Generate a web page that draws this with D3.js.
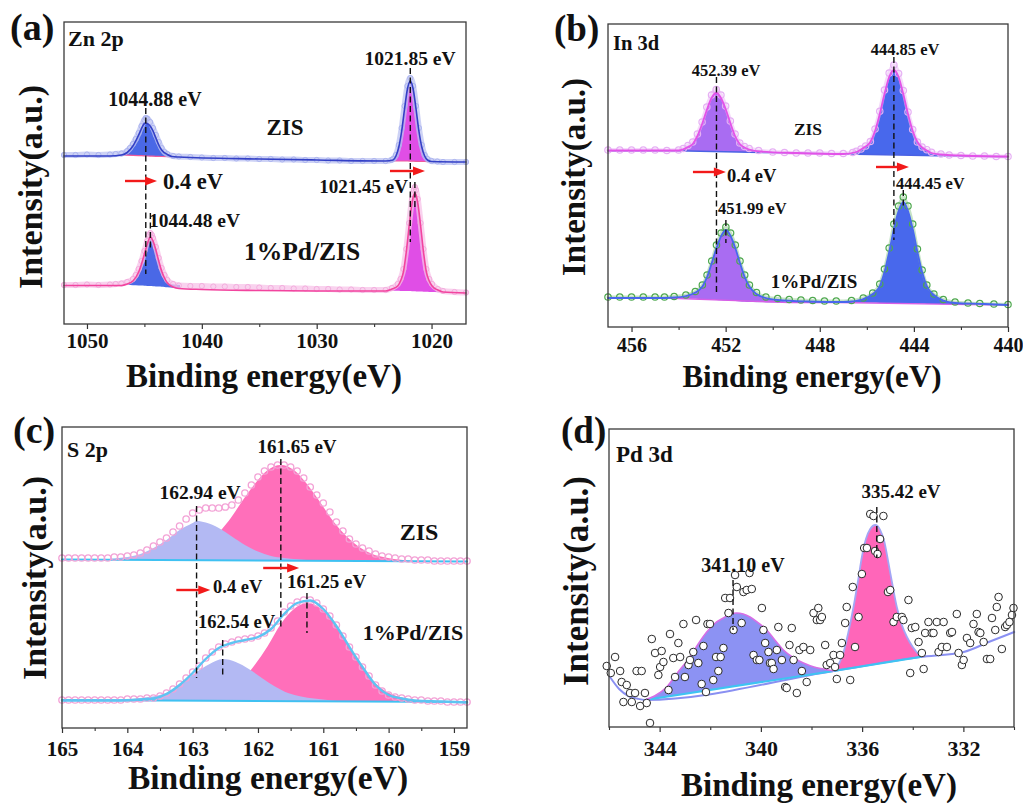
<!DOCTYPE html>
<html><head><meta charset="utf-8">
<script src="https://d3js.org/d3.v7.min.js"></script>
<style>
html,body{margin:0;padding:0;background:#fff;}
svg{display:block;}
text{font-family:"Liberation Serif","Times New Roman",serif;font-weight:bold;fill:#111;}
</style>
</head><body>
<svg id="chart" width="1023" height="805"></svg>
<script>
// ================= DATA =================
// ---- (a) Zn 2p : [binding energy, intensity a.u.] ----
const aZisData = [[1052,169],[1051,169],[1050,169.5],[1049,169],[1048,169.5],[1047.5,170],[1047,170.5],[1046.5,173],[1046.25,176],[1046,180],[1045.75,185],[1045.5,191],[1045.25,198],[1045,204],[1044.88,206],[1044.75,205.5],[1044.5,202],[1044.25,196],[1044,189],[1043.75,182],[1043.5,176],[1043.25,172],[1043,170],[1042.5,168],[1042,167.5],[1041,167],[1040,166.5],[1039,166],[1038,166],[1037,165.5],[1036,165.5],[1035,165],[1034,165],[1033,164.5],[1032,164.5],[1031,164],[1030,164],[1029,163.5],[1028,163.5],[1027,163],[1026,163],[1025,163],[1024,163],[1023.5,164],[1023.35,165],[1023.1,169],[1022.85,179],[1022.6,196],[1022.35,218],[1022.1,238],[1021.85,246],[1021.6,238],[1021.35,218],[1021.1,196],[1020.85,179],[1020.6,169],[1020.35,165],[1020,163],[1019.5,162.5],[1019,162],[1018,162],[1017,162]];
const aZisFit = [[1052,168],[1048,168],[1047,169],[1046.5,171.5],[1046,178],[1045.5,189],[1045.25,195.5],[1045,200.5],[1044.88,201],[1044.75,200.5],[1044.5,198],[1044.25,193],[1044,186],[1043.75,179],[1043.5,174],[1043,169.5],[1042.6,167.5],[1042,167],[1035,165],[1030,164],[1024,163],[1023.35,164],[1023.1,168],[1022.85,177],[1022.6,193],[1022.35,215],[1022.1,235],[1021.85,243],[1021.6,235],[1021.35,215],[1021.1,193],[1020.85,177],[1020.6,168],[1020.35,164],[1020,162.5],[1017,162]];
// components: [energy, top, background]
const aZisPeak1 = [[1047.2,169,169],[1046.5,171.5,168.8],[1046,178,168.6],[1045.5,189,168.4],[1045.25,195.5,168.3],[1045,200.5,168.2],[1044.88,201,168.1],[1044.75,200.5,168],[1044.5,198,167.9],[1044.25,193,167.8],[1044,186,167.7],[1043.75,179,167.6],[1043.5,174,167.5],[1043,169.5,167.3],[1042.6,167.2,167.2]];
const aZisPeak2 = [[1023.6,163,163],[1023.35,164,163],[1023.1,168,163],[1022.85,177,163],[1022.6,193,163],[1022.35,215,163],[1022.1,235,163],[1021.85,243,162.8],[1021.6,235,162.8],[1021.35,215,162.7],[1021.1,193,162.7],[1020.85,177,162.6],[1020.6,168,162.5],[1020.35,164,162.4],[1020,162.3,162.3]];
const aPdData = [[1052,39],[1051,39],[1050,39.5],[1049,39],[1048,39.5],[1047.5,40],[1047,40.5],[1046.5,42],[1046,45],[1045.75,49],[1045.5,55],[1045.25,63],[1045,73],[1044.75,83],[1044.6,89],[1044.48,91],[1044.35,89],[1044.25,86],[1044,77],[1043.75,66],[1043.5,56],[1043.25,49],[1043,44],[1042.5,40],[1042,38.5],[1041,38],[1040,38],[1039,37.5],[1038,37.5],[1037,37],[1036,37],[1035,36.5],[1034,36],[1033,36],[1032,35.5],[1031,35.5],[1030,35],[1029,35],[1028,34.5],[1027,34.5],[1026,34],[1025,34],[1024,34],[1023.45,36],[1022.95,40],[1022.7,45],[1022.45,55],[1022.2,75],[1021.95,101],[1021.7,125],[1021.55,134],[1021.45,137],[1021.35,134],[1021.2,125],[1020.95,101],[1020.7,75],[1020.45,55],[1020.2,45],[1019.95,40],[1019.45,35],[1019,33],[1018,32],[1017,31.5]];
const aPdFit = [[1052,38.5],[1047,38.5],[1046.5,40],[1046,43],[1045.5,52],[1045.25,60],[1045,70],[1044.75,80],[1044.48,87],[1044.25,83],[1044,74],[1043.75,63],[1043.5,53],[1043.25,46],[1043,41],[1042.5,37],[1042,35.5],[1040,34.5],[1035,33.5],[1030,33],[1024,33],[1023.45,35],[1022.95,38],[1022.7,43],[1022.45,52],[1022.2,72],[1021.95,98],[1021.7,121],[1021.55,129],[1021.45,131],[1021.35,129],[1021.2,121],[1020.95,98],[1020.7,72],[1020.45,52],[1020.2,43],[1019.95,38],[1019.45,34],[1019,32],[1017,31]];
const aPdPeak1 = [[1046.8,39,39],[1046.5,40,39],[1046,43,38.8],[1045.5,52,38.6],[1045.25,60,38.5],[1045,70,38.3],[1044.75,80,38.1],[1044.48,87,38],[1044.25,83,37.8],[1044,74,37.6],[1043.75,63,37.4],[1043.5,53,37.2],[1043.25,46,37],[1043,41.5,36.7],[1042.5,39.5,36.3],[1041.9,39,35.8]];
const aPdPeak2 = [[1023.6,33.5,33.5],[1023.45,35,33.3],[1022.95,38,33.2],[1022.7,43,33.1],[1022.45,52,33],[1022.2,72,33],[1021.95,98,32.9],[1021.7,121,32.8],[1021.55,129,32.7],[1021.45,131,32.7],[1021.35,129,32.6],[1021.2,121,32.5],[1020.95,98,32.4],[1020.7,72,32.3],[1020.45,52,32.2],[1020.2,43,32.1],[1019.95,38,32],[1019.45,34,31.8],[1019.2,31.7,31.7]];
const aTicks = [1050,1040,1030,1020];
const aMinor = [1045,1035,1025];
const aDashes = [[1044.88,216,50],[1044.48,111,74],[1021.85,256,82],[1021.45,142,117]];
const aArrows = [[1046.69,1043.9,143],[1023.62,1020.57,153]];

// ---- (b) In 3d ----
const bZisData = [[457,177],[456.5,177],[456,177],[455.5,177],[455,177],[454.5,176.5],[454,177],[453.8,178.5],[453.6,181.5],[453.4,185],[453.2,193],[453,205],[452.8,220],[452.6,232],[452.4,237.5],[452.2,232],[452,221],[451.8,206],[451.6,193],[451.4,184],[451.2,180.5],[451,178.5],[450.6,176.5],[450,175],[449.5,174.5],[449,174],[448.5,174],[448,174],[447.5,173.5],[447,173.5],[446.6,174.5],[446.45,175.7],[446.25,178],[446.05,181],[445.85,185.5],[445.65,198],[445.45,215.7],[445.25,237],[445.05,254],[444.85,262],[444.65,253.5],[444.45,236.5],[444.25,215],[444.05,197.5],[443.85,185],[443.65,180],[443.45,177.3],[443.25,174.7],[442.85,173],[442.5,172],[442,171.5],[441.5,171],[441,171],[440.5,170.5],[440,170.5]];
const bZisFit = [[457,176.5],[454,176.5],[453.6,180],[453.4,183],[453.2,191],[453,203],[452.8,217],[452.6,229],[452.39,234],[452.2,229],[452,218],[451.8,204],[451.6,191],[451.4,183],[451.2,179.5],[451,177.5],[450.5,175.5],[449,174],[447,173],[446.45,175],[446.25,177.5],[446.05,180.5],[445.85,185],[445.65,196],[445.45,213],[445.25,233],[445.05,250],[444.85,257],[444.65,250],[444.45,233],[444.25,213],[444.05,196],[443.85,185],[443.65,179.5],[443.45,176.5],[443.25,174],[442.85,172.5],[442,171.5],[440,170.5]];
const bZisPeak1 = [[454,176,176],[453.6,180,176],[453.4,183,175.9],[453.2,191,175.8],[453,203,175.7],[452.8,217,175.6],[452.6,229,175.5],[452.39,234,175.4],[452.2,229,175.3],[452,218,175.2],[451.8,204,175.1],[451.6,191,175],[451.4,183,174.9],[451.2,179.5,174.8],[451,177.5,174.7],[450.5,175.5,174.5],[450,174.3,174.3]];
const bZisPeak2 = [[447,173,173],[446.45,175,172.9],[446.25,177.5,172.8],[446.05,180.5,172.7],[445.85,185,172.6],[445.65,196,172.5],[445.45,213,172.4],[445.25,233,172.3],[445.05,250,172.2],[444.85,257,172.1],[444.65,250,172],[444.45,233,171.9],[444.25,213,171.8],[444.05,196,171.7],[443.85,185,171.6],[443.65,179.5,171.5],[443.45,176.5,171.4],[443.25,174,171.3],[442.85,172.5,171.2],[442.3,171,171]];
const bZisBase = [[457,176],[453.6,176],[451,174.7],[447,173],[443,171.3],[440,170.3]];
const bPdData = [[457,30],[456.5,30],[456,30],[455.5,30],[455,30],[454.6,30],[454.19,30.5],[453.69,32],[453.29,35.5],[452.99,42],[452.79,52],[452.59,66],[452.39,82],[452.19,94],[451.99,100],[451.79,94],[451.59,82],[451.39,66],[451.19,52],[450.99,42],[450.69,34.5],[450.29,30],[449.79,28.5],[449.3,27.5],[448.8,27],[448.3,26.5],[447.8,26],[447.3,26],[446.65,26.5],[446.15,29],[445.75,34],[445.45,43],[445.25,58],[445.05,79],[444.85,103],[444.65,121],[444.45,130],[444.25,121],[444.05,103],[443.85,78],[443.65,57],[443.45,42],[443.15,33],[442.75,27.5],[442.25,25],[441.7,24],[441.2,23.5],[440.6,23],[440,22.5]];
const bPdFit = [[457,29],[455,29],[454.19,29.5],[453.69,31],[453.29,34.5],[452.99,40.5],[452.79,50],[452.59,64],[452.39,79],[452.19,91],[451.99,97],[451.79,91],[451.59,79],[451.39,64],[451.19,50],[450.99,40.5],[450.69,33],[450.29,29],[449.79,27],[448.5,25.5],[447,25],[446.65,25.5],[446.15,28],[445.75,33],[445.45,41],[445.25,55],[445.05,75],[444.85,98],[444.65,116],[444.45,125],[444.25,116],[444.05,98],[443.85,75],[443.65,55],[443.45,41],[443.15,32],[442.75,26.5],[442.25,24],[441,23],[440,22]];
const bPdPeak1 = [[454.6,29,29],[454.19,29.5,28.8],[453.69,31,28.6],[453.29,34.5,28.3],[452.99,40.5,28],[452.79,50,27.7],[452.59,64,27.4],[452.39,79,27.1],[452.19,91,26.8],[451.99,97,26.5],[451.79,91,26.2],[451.59,79,25.9],[451.39,64,25.6],[451.19,50,25.3],[450.99,40.5,25],[450.69,33,24.8],[450.29,29,24.6],[449.79,27,24.5],[449.3,24.5,24.5]];
const bPdPeak2 = [[447.2,24.5,24.5],[446.65,25.5,24.4],[446.15,28,24.3],[445.75,33,24.2],[445.45,41,24.1],[445.25,55,24],[445.05,75,23.9],[444.85,98,23.8],[444.65,116,23.7],[444.45,125,23.6],[444.25,116,23.5],[444.05,98,23.4],[443.85,75,23.3],[443.65,55,23.2],[443.45,41,23.1],[443.15,32,23],[442.75,26.5,22.8],[442.25,24,22.6],[441.6,22.4,22.4]];
const bPdBase = [[457,29],[454.6,29],[449.3,24.5],[447.2,24.5],[441.6,22.4],[440,22]];
const bTicks = [456,452,448,444,440];
const bMinor = [454,450,446,442];
const bDashes = [[452.39,250,34],[451.99,107,84],[444.85,270,87],[444.45,137,120]];
const bArrows = [[453.39,451.99,155],[445.61,444.21,160]];

// ---- (c) S 2p ----
const cZisData = [[165.0,170],[164.9,170],[164.8,170],[164.7,170],[164.6,170],[164.5,170],[164.4,170],[164.3,170],[164.2,171],[164.1,171],[164.0,172],[163.9,173],[163.8,175],[163.7,178],[163.6,182],[163.5,186],[163.4,190],[163.3,196],[163.2,202],[163.1,209],[163.0,215],[162.9,218],[162.8,220],[162.7,220],[162.6,220],[162.5,221],[162.4,223],[162.3,228],[162.2,235],[162.1,243],[162.0,251],[161.9,257],[161.8,261],[161.7,263],[161.6,263],[161.5,261],[161.4,257],[161.3,250],[161.2,241],[161.1,233],[161.0,225],[160.9,216],[160.8,206],[160.7,197],[160.6,189],[160.5,184],[160.4,180],[160.3,177],[160.2,174],[160.1,172],[160.0,171],[159.9,170],[159.8,169],[159.7,169],[159.6,168],[159.5,168],[159.4,168],[159.3,167],[159.2,167],[159.1,167],[159.0,167],[158.9,167],[158.8,167]];
const cPdData = [[165.0,28],[164.9,28],[164.8,28],[164.7,28],[164.6,28],[164.5,28],[164.4,28],[164.3,28],[164.2,28],[164.1,28],[164.0,29],[163.9,29],[163.8,29],[163.7,30],[163.6,30],[163.5,32],[163.4,35],[163.3,39],[163.2,44],[163.1,50],[163.0,56],[162.9,62],[162.8,70],[162.7,76],[162.6,81],[162.5,84],[162.4,86],[162.3,88],[162.2,89],[162.1,90],[162.0,92],[161.9,95],[161.8,100],[161.7,107],[161.6,116],[161.5,122],[161.4,126],[161.3,128],[161.2,128],[161.1,125],[161.0,119],[160.9,112],[160.8,103],[160.7,92],[160.6,81],[160.5,71],[160.4,61],[160.3,52],[160.2,43],[160.1,37],[160.0,33],[159.9,31],[159.8,30],[159.7,29],[159.6,28],[159.5,28],[159.4,27],[159.3,27],[159.2,27],[159.1,26],[159.0,26],[158.9,26],[158.8,26]];
const cPdFit = [[165,27.5],[164.6,27.5],[164.2,27.5],[163.8,28.5],[163.6,29.5],[163.4,34],[163.2,43],[163,55],[162.8,69],[162.6,80],[162.4,85],[162.2,88],[162,91],[161.8,99],[161.6,114],[161.4,125],[161.2,127.5],[161,119],[160.8,102],[160.6,81],[160.4,61],[160.2,43],[160,33],[159.8,29.5],[159.6,27.5],[159.2,26.5],[158.8,25.5]];
const cZisPeakP = [[163.45,169,169],[163.25,170.7,168.8],[163.05,174,168.6],[162.85,181,168.4],[162.65,192,168.2],[162.45,207,168],[162.25,226,167.9],[162.05,244,167.8],[161.85,258,167.7],[161.65,263,167.6],[161.45,258,167.5],[161.25,244,167.4],[161.05,226,167.3],[160.85,207,167.2],[160.65,192,167.1],[160.45,181,167],[160.25,174,166.9],[160.05,170.5,166.8],[159.85,168.5,166.7],[159.5,166.6,166.6]];
const cZisPeakL = [[164.4,168.3,168.3],[164.2,169.5,168.3],[164,171,168.3],[163.8,174,168.3],[163.6,180,168.3],[163.4,188,168.2],[163.2,198,168.2],[163,205,168.1],[162.94,207,168.1],[162.8,205.5,168.1],[162.6,200,168],[162.4,191.5,168],[162.2,183,167.9],[162,176.5,167.9],[161.8,172,167.8],[161.6,170,167.7],[161.4,168.7,167.6],[161.1,167.5,167.5]];
const cPdPeakP = [[163.2,28,28],[163.05,29,28],[162.85,30.8,27.9],[162.65,34.4,27.9],[162.45,40,27.8],[162.25,48,27.7],[162.05,63,27.6],[161.85,82,27.5],[161.65,104,27.4],[161.45,119,27.3],[161.25,125,27.2],[161.05,120,27.1],[160.85,106,27],[160.65,86,26.9],[160.45,66,26.8],[160.25,48,26.7],[160.05,37,26.6],[159.85,31.5,26.5],[159.65,28.5,26.4],[159.45,27,26.3],[159.2,26.2,26.2]];
const cPdPeakL = [[164.2,28,28],[163.94,29,28],[163.74,30.5,28],[163.54,32.5,28],[163.34,37,28],[163.14,46,27.9],[162.94,56,27.9],[162.74,64,27.8],[162.54,69,27.8],[162.34,66,27.7],[162.14,59,27.7],[161.94,50,27.6],[161.74,41.5,27.5],[161.54,35,27.4],[161.34,31.5,27.3],[161.14,29.4,27.2],[160.8,27,27]];
const cZisBase = [[165,168.5],[158.8,166.5]];
const cPdBase = [[165,28],[158.8,26]];
const cTicks = [165,164,163,162,161,160,159];
const cMinor = [164.5,163.5,162.5,161.5,160.5,159.5];
const cDashes = [[162.94,222,50],[161.65,269,98],[162.54,88,50],[161.25,135,95]];
const cArrows = [[163.25,162.73,138],[161.92,161.37,160]];

// ---- (d) Pd 3d ----
const dData = [[346.09,61],[345.93,54],[345.76,70],[345.56,56],[345.50,45],[345.30,42],[345.43,25],[345.17,34],[344.97,34],[345.10,25],[344.91,56],[344.71,56],[344.77,21],[344.58,34],[344.51,24],[344.38,4],[344.31,88],[344.18,74],[344.05,52],[343.98,60],[343.92,76],[343.85,65],[343.65,37],[343.59,93],[343.46,69],[343.39,50],[343.26,84],[343.19,70],[343.06,103],[343.00,50],[342.86,62],[342.80,67],[342.67,75],[342.56,107],[342.47,64],[342.34,43],[342.27,81],[342.17,35],[342.11,103],[342.01,103],[341.88,47],[341.77,70],[341.68,56],[341.59,70],[341.48,79],[341.41,129],[341.22,129],[341.28,114],[341.08,97],[341.02,152],[340.95,140],[340.76,104],[340.69,135],[340.56,137],[340.45,154],[340.36,138],[340.29,72],[340.16,67],[340.06,67],[339.96,119],[339.90,97],[339.83,84],[339.70,75],[339.64,64],[339.57,64],[339.50,58],[339.37,77],[339.31,100],[339.17,67],[339.04,40],[338.98,39],[338.87,82],[338.78,99],[338.71,67],[338.58,34],[338.48,77],[338.38,56],[338.32,80],[338.19,45],[338.05,77],[337.92,114],[337.79,107],[337.73,119],[337.66,107],[337.59,110],[337.46,82],[337.40,62],[337.26,64],[337.13,72],[337.07,60],[337.00,48],[336.87,72],[336.80,84],[336.67,104],[336.61,120],[336.47,47],[336.37,140],[336.28,80],[336.14,110],[336.01,153],[335.92,179],[335.81,179],[335.68,213],[335.55,211],[335.49,176],[335.39,173],[335.29,188],[335.16,211],[334.98,135],[334.89,137],[334.76,105],[334.63,110],[334.43,110],[334.37,107],[334.17,127],[334.10,54],[334.04,99],[333.90,100],[333.77,85],[333.64,74],[333.57,58],[333.51,94],[333.38,105],[333.25,94],[333.18,94],[333.05,105],[332.98,75],[332.85,80],[332.78,105],[332.65,80],[332.52,94],[332.45,95],[332.26,113],[332.19,74],[332.06,62],[331.99,67],[331.86,89],[331.73,84],[331.60,103],[331.47,113],[331.40,95],[331.33,94],[331.20,85],[331.07,68],[330.94,68],[330.87,109],[330.74,97],[330.68,120],[330.61,130],[330.48,78],[330.35,100],[330.28,102],[330.18,105],[330.08,112],[330.02,119]];
const dBase = [[345.96,50],[345.6,38],[345.23,31],[344.9,28.5],[344.58,27],[337.13,56],[333.71,70],[331.99,75],[331,85],[329.99,95]];
const dPeakBlue = [[344.58,27,27],[344.2,31,28.5],[343.72,40,30.3],[343.3,54,32],[342.8,70,33.9],[342.45,84,35.3],[342.14,95,36.5],[341.8,104,37.8],[341.48,109,39],[341.2,113,40.1],[340.95,114,41.1],[340.7,113,42],[340.43,110,43.1],[340.1,104,44.4],[339.77,97,45.6],[339.45,87,46.9],[339.11,77,48.2],[338.7,69,49.8],[338.32,64,51.3],[337.9,60,52.9],[337.53,58,54.4],[337.13,56,56]];
const dPeakPink = [[337.13,56,56],[336.9,64,57],[336.74,74,57.6],[336.55,94,58.4],[336.34,120,59.2],[336.15,148,60],[336.01,170,60.6],[335.85,188,61.2],[335.68,198,61.9],[335.48,202,62.7],[335.29,197,63.5],[335.12,185,64.2],[334.96,164,64.9],[334.8,142,65.5],[334.63,120,66.2],[334.43,102,67],[334.23,90,67.9],[334,80,68.8],[333.77,73,69.8],[333.6,70.5,70.5]];
const dTicks = [344,340,336,332];
const dMinor = [346,342,338,334,330];
const dDashes = [[335.42,220,169],[341.10,147,97]];

// ================= DRAWING =================
const svg = d3.select('#chart');
svg.append('rect').attr('width',1023).attr('height',805).attr('fill','#fff');

function makePanel(cfg){
  const g = svg.append('g');
  const x = d3.scaleLinear().domain(cfg.xd).range([cfg.l, cfg.r]);
  const y = d3.scaleLinear().domain(cfg.yd).range([cfg.b, cfg.t]);
  const P = {g, x, y, cfg};
  P.layer = g.append('g');
  const ax = g.append('g').attr('transform',`translate(0,${cfg.b})`)
    .call(d3.axisBottom(x).tickValues(cfg.ticks).tickSize(5).tickPadding(cfg.pad).tickFormat(d3.format('d')));
  ax.select('.domain').remove();
  ax.selectAll('line').attr('stroke','#333').attr('stroke-width',1.2);
  ax.selectAll('text').style('font-size',cfg.tfs+'px').attr('fill','#111');
  const mx = g.append('g').attr('transform',`translate(0,${cfg.b})`)
    .call(d3.axisBottom(x).tickValues(cfg.minor).tickSize(3).tickFormat(''));
  mx.select('.domain').remove();
  mx.selectAll('line').attr('stroke','#333').attr('stroke-width',1.1);
  g.append('rect').attr('x',cfg.l).attr('y',cfg.t).attr('width',cfg.r-cfg.l).attr('height',cfg.b-cfg.t)
    .attr('fill','none').attr('stroke','#3a3a3a').attr('stroke-width',1.3);
  return P;
}
function area(P, comp, color, op){
  P.layer.append('path').datum(comp)
   .attr('d', d3.area().x(d=>P.x(d[0])).y0(d=>P.y(d[2])).y1(d=>P.y(d[1])).curve(d3.curveMonotoneX))
   .attr('fill', color).attr('fill-opacity', op==null?1:op);
}
function line(P, data, color, w, op, curve){
  P.layer.append('path').datum(data)
   .attr('d', d3.line().x(d=>P.x(d[0])).y(d=>P.y(d[1])).curve(curve||d3.curveMonotoneX))
   .attr('fill','none').attr('stroke',color).attr('stroke-width',w).attr('stroke-opacity',op==null?1:op)
   .attr('stroke-linejoin','round').attr('stroke-linecap','round');
}
function bottomLine(P, comp, color, w){
  line(P, comp.map(d=>[d[0],d[2]]), color, w, 1, d3.curveLinear);
}
function dots(P, data, r, stroke, fill, sw, op){
  P.layer.append('g').selectAll('circle').data(data).join('circle')
   .attr('cx',d=>P.x(d[0])).attr('cy',d=>P.y(d[1])).attr('r',r)
   .attr('fill',fill).attr('stroke',stroke).attr('stroke-width',sw).attr('stroke-opacity',op==null?1:op);
}
function dashes(P, list){
  list.forEach(d=>{
    P.g.append('line').attr('x1',P.x(d[0])).attr('x2',P.x(d[0])).attr('y1',P.y(d[1])).attr('y2',P.y(d[2]))
      .attr('stroke','#111').attr('stroke-width',1.4).attr('stroke-dasharray','6,3.5');
  });
}
function arrows(P, list){
  list.forEach(a=>{
    const x0=P.x(a[0]), x1=P.x(a[1]), yy=P.y(a[2]);
    P.g.append('line').attr('x1',x0).attr('x2',x1-9).attr('y1',yy).attr('y2',yy)
      .attr('stroke','#f21a1a').attr('stroke-width',2.4);
    P.g.append('path').attr('d',`M${x1},${yy}L${x1-12},${yy-4.5}L${x1-12},${yy+4.5}Z`).attr('fill','#f21a1a');
  });
}
function texts(list){
  list.forEach(t=>{
    svg.append('text').attr('x',t[1]).attr('y',t[2]).style('font-size',t[3]+'px')
      .attr('text-anchor',t[4]||'start').text(t[0]);
  });
}
function titles(xt, yt){
  svg.append('text').attr('x',xt[0]).attr('y',xt[1]).style('font-size',xt[2]+'px')
    .attr('text-anchor','middle').text('Binding energy(eV)');
  svg.append('text').attr('transform',`translate(${yt[0]},${yt[1]}) rotate(-90)`).style('font-size',yt[2]+'px')
    .attr('text-anchor','middle').text('Intensity(a.u.)');
}

// ---------- Panel (a) ----------
const A = makePanel({xd:[1052,1017], l:64, r:466, yd:[0,302], b:324, t:22, ticks:aTicks, minor:aMinor, tfs:21, pad:4});
area(A, aZisPeak1, '#4a68e6');
area(A, aZisPeak2, '#e04ee6');
area(A, aPdPeak1, '#4a68e6');
area(A, aPdPeak2, '#e04ee6');
bottomLine(A, aZisPeak1, '#ee5a9a', 1.2);
bottomLine(A, aZisPeak2, '#ee5a9a', 1.2);
line(A, aZisData, '#bcc3f2', 6, 0.75);
dots(A, aZisData, 2.6, '#a8b1ee', 'none', 1, 0.9);
line(A, aZisFit, '#3340c6', 1.6);
line(A, aPdData, '#f7c3e8', 6, 0.75);
dots(A, aPdData, 2.6, '#f2aadc', 'none', 1, 0.9);
line(A, aPdFit, '#f2449e', 1.6);
dashes(A, aDashes);
arrows(A, aArrows);

// ---------- Panel (b) ----------
const B = makePanel({xd:[457,440], l:608, r:1008, yd:[0,303], b:327, t:24, ticks:bTicks, minor:bMinor, tfs:20, pad:6});
area(B, bZisPeak1, '#a96cf2');
area(B, bZisPeak2, '#4868ec');
area(B, bPdPeak1, '#a96cf2');
area(B, bPdPeak2, '#4868ec');
line(B, bZisBase, '#4a62e4', 1.4, 1, d3.curveLinear);
line(B, bPdBase, '#d85ee6', 1.4, 1, d3.curveLinear);
line(B, bZisData, '#ecc2f6', 4, 0.6);
dots(B, bZisData, 3.2, '#e6b0f4', 'none', 1.2);
line(B, bPdData, '#8cc88c', 3, 0.5);
dots(B, bPdData, 3.2, '#4ea84e', 'none', 1.2);
line(B, bZisFit, '#e352e8', 1.8);
line(B, bPdFit, '#4866ee', 1.8);
dashes(B, bDashes);
arrows(B, bArrows);

// ---------- Panel (c) ----------
const C = makePanel({xd:[165,158.8], l:62, r:467, yd:[0,301], b:728, t:427, ticks:cTicks, minor:cMinor, tfs:21, pad:8});
area(C, cZisPeakP, '#ff6fba');
area(C, cZisPeakL, '#b3b9f3');
area(C, cPdPeakP, '#ff6fba');
area(C, cPdPeakL, '#b3b9f3');
line(C, cZisBase, '#3fc1f2', 2, 1, d3.curveLinear);
line(C, cPdBase, '#3fc1f2', 2, 1, d3.curveLinear);
dots(C, cZisData, 3.2, '#f3a2d6', 'none', 1.3);
dots(C, cPdData, 3.2, '#f3a2d6', 'none', 1.3);
line(C, cPdFit, '#5ec4f2', 2.4);
dashes(C, cDashes);
arrows(C, cArrows);

// ---------- Panel (d) ----------
const D = makePanel({xd:[346,330], l:609, r:1014, yd:[0,298], b:727, t:429, ticks:dTicks, minor:dMinor, tfs:22, pad:8});
area(D, dPeakBlue, '#8c92f3');
area(D, dPeakPink, '#ff66b9');
line(D, dBase, '#8a90f2', 2, 1, d3.curveMonotoneX);
line(D, dBase.filter(d=>d[0]<=344.6 && d[0]>=333.7), '#3ec4f2', 2.2, 1, d3.curveLinear);
line(D, dPeakBlue.map(d=>[d[0],d[1]]), '#d66ee6', 1.6);
line(D, dPeakPink.map(d=>[d[0],d[1]]), '#a3a6f5', 1.8);
dots(D, dData, 3.8, '#2a2a2a', '#fff', 1);
dashes(D, dDashes);

// ---------- Text ----------
texts([
  ['(a)',10,40,38],['Zn 2p',68,46,22],
  ['1044.88 eV',155,106,20,'middle'],['1021.85 eV',410,65,19.5,'middle'],
  ['ZIS',285,135,23,'middle'],['0.4 eV',163,189,22.5],
  ['1021.45 eV',408,193,19,'end'],['1044.48 eV',149,227,19.5],
  ['1%Pd/ZIS',302,260,25.5,'middle'],
  ['(b)',554,41,37],['In 3d',613,50,20.5],
  ['452.39 eV',726,76,16.5,'middle'],['444.85 eV',905,55,16.5,'middle'],
  ['ZIS',808,135,17.5,'middle'],['0.4 eV',727,182,18.5],
  ['451.99 eV',718,214,16.5],['444.45 eV',896,189,16.5],
  ['1%Pd/ZIS',814,288,19,'middle'],
  ['(c)',13,443,38],['S 2p',67,457,22],
  ['161.65 eV',297,453,19,'middle'],['162.94 eV',200,499,19.5,'middle'],
  ['ZIS',419,540,24,'middle'],['0.4 eV',213,593,18.5],
  ['161.25 eV',287,588,19],['162.54 eV',198,628,18.5],
  ['1%Pd/ZIS',413,640,22,'middle'],
  ['(d)',561,443,37],['Pd 3d',616,462,23],
  ['335.42 eV',901,498,19,'middle'],['341.10 eV',743,572,20,'middle']
]);
titles([264,387,33],[42,187,34]);
titles([812,387,31],[585,177,33]);
titles([268,789,33.5],[46,578,34]);
titles([819,796,33],[588,581,35]);
</script>
</body></html>
